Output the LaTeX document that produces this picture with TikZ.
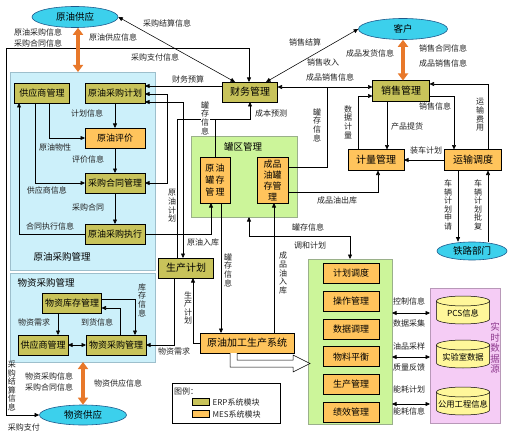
\documentclass[tikz,border=0pt]{standalone}
\usepackage{fontspec}
\newfontfamily\cjk{Noto Sans CJK SC}
\usetikzlibrary{arrows.meta,shapes.geometric}
\definecolor{erpc}{HTML}{C8C35A}
\definecolor{mesc}{HTML}{FFC45C}
\definecolor{cyanc}{HTML}{3CD0EC}
\definecolor{cyanb}{HTML}{1E5A8C}
\definecolor{bluep}{HTML}{CCF0FA}
\definecolor{bluepb}{HTML}{9DBFCC}
\definecolor{greenp}{HTML}{CCF59A}
\definecolor{greenpb}{HTML}{9AB08A}
\definecolor{pinkp}{HTML}{F5CCF5}
\definecolor{pinkpb}{HTML}{B898B8}
\definecolor{cylc}{HTML}{FFF79A}
\definecolor{orgc}{HTML}{E8782A}
\definecolor{purc}{HTML}{8E3A8E}
\definecolor{txtc}{HTML}{222222}
\tikzset{
 ln/.style={line width=0.55pt, draw=black},
 ar/.style={ln, -{Triangle[length=4.5pt,width=4pt]}},
 dar/.style={ln, {Triangle[length=4.5pt,width=4pt]}-{Triangle[length=4.5pt,width=4pt]}},
 oar/.style={draw=orgc, line width=3.5pt, {Triangle[length=7pt,width=10pt]}-{Triangle[length=7pt,width=10pt]}},
 boxbase/.style={draw=black, line width=0.6pt, inner sep=0pt, outer sep=0pt, minimum height=20pt, font=\cjk\fontsize{9}{10}\selectfont},
 erp/.style={boxbase, fill=erpc},
 mes/.style={boxbase, fill=mesc},
 big/.style={font=\cjk\fontsize{10}{11}\selectfont},
 ell/.style={ellipse, draw=cyanb, line width=0.6pt, fill=cyanc, inner sep=0pt, font=\cjk\fontsize{9.5}{10}\selectfont},
 lbl/.style={inner sep=0.5pt, text=txtc, font=\cjk\fontsize{8}{9}\selectfont},
 vlbl/.style={lbl, align=center, font=\cjk\fontsize{8}{8.6}\selectfont},
 panel/.style={anchor=north west, inner sep=0pt, outer sep=0pt, line width=0.5pt},
 ptitle/.style={inner sep=0pt, text=black, font=\cjk\fontsize{9.5}{10}\selectfont},
}
\newcommand\dbcyl[4]{%
  \path[draw=black, line width=0.5pt, fill=cylc]
    ({#1-26.5},{#2-9}) -- ({#1-26.5},{#2+9}) arc[start angle=180, end angle=0, x radius=26.5, y radius=5]
    -- ({#1+26.5},{#2-9}) arc[start angle=0, end angle=-180, x radius=26.5, y radius=5] -- cycle;
  \draw[line width=0.5pt] ({#1-26.5},{#2-9}) arc[start angle=180, end angle=0, x radius=26.5, y radius=5];
  \node[inner sep=0pt, font=\cjk\fontsize{8.3}{10}\selectfont] (#3) at (#1,{#2+3}) {#4};
}
\begin{document}
\begin{tikzpicture}[x=1pt,y=-1pt]
\path[use as bounding box, fill=white] (0,0) rectangle (511,433);
% ---------------- panels
\node[panel, draw=bluepb, fill=bluep, minimum width=145pt, minimum height=198pt] (ycp) at (10,72) {};
\node[panel, draw=bluepb, fill=bluep, minimum width=145pt, minimum height=89pt] (wcp) at (10,273) {};
\node[panel, draw=greenpb, fill=greenp, minimum width=106pt, minimum height=81pt] (tankp) at (191,136) {};
\node[panel, draw=greenpb, fill=greenp, minimum width=84pt, minimum height=165pt] (mesp) at (308,259) {};
\node[panel, draw=pinkpb, fill=pinkp, minimum width=70pt, minimum height=135pt] (rtp) at (430,288) {};
\node[panel, draw=black, fill=white, minimum width=108pt, minimum height=40pt] (legend) at (172,383) {};
\node[ptitle] (t1) at (62,257) {原油采购管理};
\node[ptitle] (t2) at (46,283) {物资采购管理};
\node[ptitle] (t3) at (243,147) {罐区管理};
\node[inner sep=0pt, text=purc, align=center, font=\cjk\fontsize{9.5}{10.6}\selectfont] (t4) at (495,348) {实\\时\\数\\据\\源};
% ---------------- ellipses
\node[ell, minimum width=86pt, minimum height=21pt] (yygy) at (75,17) {原油供应};
\node[ell, minimum width=89pt, minimum height=21pt] (kh) at (403,29) {客户};
\node[ell, minimum width=70pt, minimum height=18pt] (tlbm) at (472,251) {铁路部门};
\node[ell, minimum width=87pt, minimum height=20pt] (wzgy) at (83,415) {物资供应};
% ---------------- boxes
\node[erp, minimum width=55pt] (gys1) at (42,93) {供应商管理};
\node[erp, minimum width=60pt] (yycgjh) at (115,93) {原油采购计划};
\node[mes, minimum width=60pt] (yypj) at (115,138) {原油评价};
\node[erp, minimum width=60pt] (cghtgl) at (115,183) {采购合同管理};
\node[erp, minimum width=60pt] (yycgzx) at (115,234) {原油采购执行};
\node[erp, big, minimum width=55pt] (cwgl) at (250,92) {财务管理};
\node[erp, big, minimum width=57pt, minimum height=21pt] (xsgl) at (401,91) {销售管理};
\node[mes, big, minimum width=56pt, minimum height=21pt] (jlgl) at (376,160) {计量管理};
\node[mes, big, minimum width=57pt, minimum height=21pt] (ysdd) at (473,160) {运输调度};
\node[mes, minimum width=30pt, minimum height=46pt, align=center, font=\cjk\fontsize{9}{12}\selectfont] (yyg) at (215,180) {原\,油\\罐\,存\\管\,理};
\node[mes, minimum width=31pt, minimum height=46pt, align=center, font=\cjk\fontsize{9}{11}\selectfont] (cpg) at (272.5,180) {成品\\油罐\\存管\\理};
\node[erp, big, minimum width=55pt] (scjh) at (186,268) {生产计划};
\node[mes, big, minimum width=94pt] (yyjg) at (247,343) {原油加工生产系统};
\node[erp, minimum width=59pt] (wzkc) at (72,303) {物资库存管理};
\node[erp, minimum width=50pt] (gys2) at (43,345) {供应商管理};
\node[erp, minimum width=60pt] (wzcg) at (116,345) {物资采购管理};
\foreach \t [count=\i] in {计划调度,操作管理,数据调理,物料平衡,生产管理,绩效管理}
  \node[mes, minimum width=56pt] (m\i) at (351,{273.5+27.7*(\i-1)}) {\t};
% ---------------- data sources
\dbcyl{463}{310}{pcs}{PCS信息}
\dbcyl{463}{354}{lab}{实验室数据}
\dbcyl{463}{401}{gygc}{公用工程信息}
% ---------------- legend
\node[lbl] (lg) at (186,391) {图例：};
\node[draw=black, line width=0.5pt, fill=erpc, minimum width=17pt, minimum height=7pt, inner sep=0pt] (sw1) at (200.5,401.5) {};
\node[lbl, anchor=west] (lg1) at (212,402) {ERP系统模块};
\node[draw=black, line width=0.5pt, fill=mesc, minimum width=17pt, minimum height=7pt, inner sep=0pt] (sw2) at (200.5,413.5) {};
\node[lbl, anchor=west] (lg2) at (212,414) {MES系统模块};
% ---------------- connectors: crude purchase panel
\draw[ar] (yycgjh) -- (yypj);
\draw[ar] (yypj) -- (cghtgl);
\draw[ar] (cghtgl) -- (yycgzx);
\draw[ar] (gys1.south -| 49,0) |- (yypj.west);
\draw[ar] (gys1.south -| 35,0) |- (cghtgl.west);
\draw[ar] (yycgzx.west) -| (gys1.south -| 19,0);
% finance / planning
\draw[ar] (cwgl.west |- 0,86) -- (yycgjh.east |- 0,86);
\draw[dar] (yycgjh.east |- 0,94) -| (cghtgl.east -| 167,0) -- (cghtgl.east);
\draw[dar] (yycgjh.east |- 0,102) -| (scjh.north -| 183,0);
\draw[ar] (scjh.north -| 177,0) |- (cwgl.south |- 0,119) -- (cwgl.south);
\draw[ln] (yyg.north) -- (yyg.north |- 0,119);
\draw[ar] (yycgzx.east) -| (yyg.south -| 211,0);
\draw[ar] (yyg.south -| 221,0) -- (yyjg.north -| 221,0);
\draw[ar] (yyjg.north -| 274,0) -- (cpg.south -| 274,0);
\draw[ar] (yyjg.west) -| (scjh.south -| 193,0);
\draw[ar] (scjh.south -| 174,0) |- (wzcg.east);
\draw[dar] (tankp.south -| 249,0) -- (249,236) -| (mesp.north -| 350,0);
% sales side
\draw[dar] (cwgl.east |- 0,87) -- (xsgl.west |- 0,87);
\draw[ln] (cpg.east |- 0,167) -| (327,87);
\draw[ar] (cpg.east |- 0,192) -| (jlgl.south -| 378,0);
\draw[ar] (jlgl.north -| 358,0) |- (xsgl.west |- 0,96);
\draw[ar] (xsgl.south -| 387,0) -- (jlgl.north -| 387,0);
\draw[ar] (xsgl.east |- 0,96) -| (ysdd.north -| 454,0);
\draw[ar] (ysdd.north -| 488,0) |- (xsgl.east |- 0,84);
\draw[ar] (ysdd.west) -- (jlgl.east);
\draw[ar] (ysdd.south -| 458,0) -- (tlbm.north -| 458,0);
\draw[ar] (tlbm.north -| 488,0) -- (ysdd.south -| 488,0);
% outer links
\draw[dar] (yygy.east) -- (cwgl.north -| 235,0);
\draw[dar] (cwgl.north -| 266,0) -- (kh.west);
\draw[dar] (wzgy.west) -| (6,48) -| (cwgl.north -| 249,0);
\draw[oar] (yygy.south -| 78,0) -- (ycp.north -| 78,0);
\draw[oar] (kh.south) -- (xsgl.north -| kh.south);
\draw[oar] (wzgy.north) -- (wcp.south -| wzgy.north);
% material panel
\draw[ar] (wzkc.south -| 58,0) -- (gys2.north -| 58,0);
\draw[dar] (gys2) -- (wzcg);
\draw[ar] (wzcg.north -| 120,0) |- (wzkc.east |- 0,308);
\draw[ar] (wzkc.east |- 0,299) -| (wzcg.north -| 135,0);
% MES <-> real-time data
\draw[dar] (mesp.east |- pcs) -- (rtp.west |- pcs);
\draw[dar] (mesp.east |- lab) -- (rtp.west |- lab);
\draw[dar] (mesp.east |- gygc) -- (rtp.west |- gygc);
% production -> MES hollow arrow
\draw[line width=0.5pt, fill=white] (230,353) -- (230,367) -- (293,367) -- (293,372) -- (310,363.5) -- (293,355) -- (293,360) -- (237,360) -- (237,353);
% ---------------- labels
\node[lbl] at (38,32) {原油采购信息};
\node[lbl] at (38,43) {采购合同信息};
\node[lbl] at (113,37) {原油供应信息};
\node[lbl] at (167,23) {采购结算信息};
\node[lbl] at (155,57) {采购支付信息};
\node[lbl] at (188,79) {财务预算};
\node[lbl] at (305,42) {销售结算};
\node[lbl] at (323,62) {销售收入};
\node[lbl] at (330,77) {成品销售信息};
\node[lbl] at (370,53) {成品发货信息};
\node[lbl] at (443,48) {销售合同信息};
\node[lbl] at (443,63) {成品销售信息};
\node[lbl] at (87,113) {计划信息};
\node[lbl] at (55,147) {原油物性};
\node[lbl] at (88,159) {评价信息};
\node[lbl] at (47,190) {供应商信息};
\node[lbl] at (88,207) {采购合同};
\node[lbl] at (50,226) {合同执行信息};
\node[vlbl] at (172,206) {原\\油\\计\\划};
\node[vlbl, fill=white] at (205,118) {罐\\存\\信\\息};
\node[lbl] at (271,113) {成本预测};
\node[vlbl] at (317,125) {罐\\存\\信\\息};
\node[vlbl] at (348,122) {数\\据\\计\\量};
\node[lbl] at (407,126) {产品提货};
\node[lbl] at (435,106) {销售信息};
\node[vlbl] at (480,115) {运\\输\\费\\用};
\node[lbl] at (426,150) {装车计划};
\node[vlbl] at (448,205) {车\\辆\\计\\划\\申\\请};
\node[vlbl] at (478,205) {车\\辆\\计\\划\\批\\复};
\node[lbl] at (337,200) {成品油出库};
\node[lbl] at (203,242) {原油入库};
\node[vlbl] at (228,270) {罐\\存\\信\\息};
\node[vlbl] at (188,308) {生\\产\\计\\划};
\node[vlbl] at (283,273) {成\\品\\油\\入\\库};
\node[lbl] at (308,227) {罐存信息};
\node[lbl] at (310,245) {调和计划};
\node[lbl] at (174,351) {物资需求};
\node[lbl] at (34,322) {物资需求};
\node[lbl] at (97,322) {到货信息};
\node[vlbl] at (142,300) {库\\存\\信\\息};
\node[lbl] at (49,376) {物资采购信息};
\node[lbl] at (49,387) {采购合同信息};
\node[lbl] at (118,383) {物资供应信息};
\node[lbl] at (24,427) {采购支付};
\node[vlbl] at (12,386) {采\\购\\结\\算\\信\\息};
\node[lbl] at (409,301) {控制信息};
\node[lbl] at (409,323) {数据采集};
\node[lbl] at (409,346) {油品采样};
\node[lbl] at (409,367) {质量反馈};
\node[lbl] at (409,389) {能耗计划};
\node[lbl] at (409,411) {能耗信息};
\end{tikzpicture}
\end{document}
